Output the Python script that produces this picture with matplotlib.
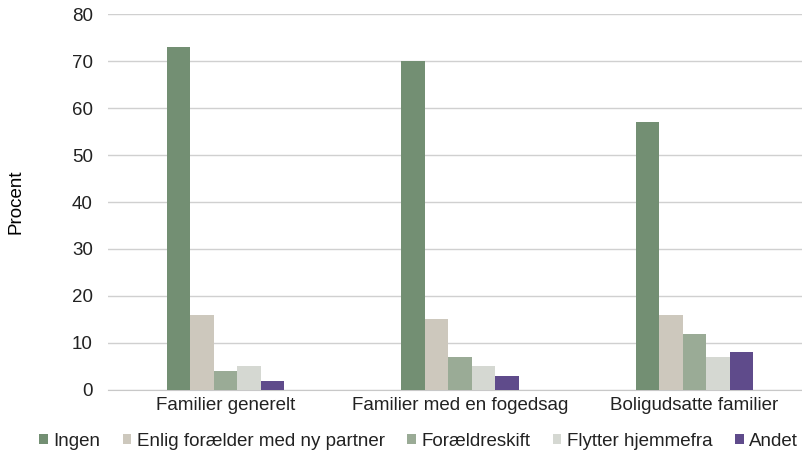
import numpy as np
import matplotlib.pyplot as plt

groups = ['Familier generelt', 'Familier med en fogedsag', 'Boligudsatte familier']
series = ['Ingen', 'Enlig forælder med ny partner', 'Forældreskift', 'Flytter hjemmefra', 'Andet']
ingen = [73, 70, 57]
enlig = [16, 15, 16]
skift = [4, 7, 12]
flytter = [5, 5, 7]
andet = [2, 3, 8]
colors = ['#738f73', '#cdc8bd', '#9aab96', '#d5d8d2', '#5f4b8b']

values = [ingen, enlig, skift, flytter, andet]

plt.rcParams['font.family'] = ['Liberation Sans', 'DejaVu Sans']
plt.rcParams['text.color'] = '#222222'

fig = plt.figure(figsize=(8.02, 4.55), dpi=100)
ax = fig.add_axes([0.135, 0.143, 0.877, 0.826])

x = np.arange(len(groups))
w = 0.1
for i, (vals, name) in enumerate(zip(values, series)):
    ax.bar(x + (i - 2) * w, vals, w, color=colors[i], label=name, zorder=3)

ax.set_xlim(-0.5, 2.5)
ax.set_ylim(0, 80)
ax.set_yticks(range(0, 81, 10))
ax.set_xticks(x)
ax.set_xticklabels(groups, fontsize=13.5)
ax.tick_params(axis='y', labelsize=13.5, length=0, pad=11, labelcolor='#222222')
ax.tick_params(axis='x', length=0, pad=5, labelcolor='#222222')
ax.yaxis.grid(True, color='#d0d0d0', linewidth=1, zorder=0)
for s in ['left', 'right', 'top']:
    ax.spines[s].set_visible(False)
ax.spines['bottom'].set_color('#c8c8c8')
ax.set_ylabel('Procent', fontsize=13.5, labelpad=34)

fig.legend(*ax.get_legend_handles_labels(), loc='center', bbox_to_anchor=(0.522, 1 - 441 / 455),
           ncol=5, frameon=False, fontsize=13.5, handlelength=0.45, handleheight=0.45,
           handletextpad=0.3, columnspacing=1.2, borderaxespad=0)

fig.savefig('out.png', dpi=100)
